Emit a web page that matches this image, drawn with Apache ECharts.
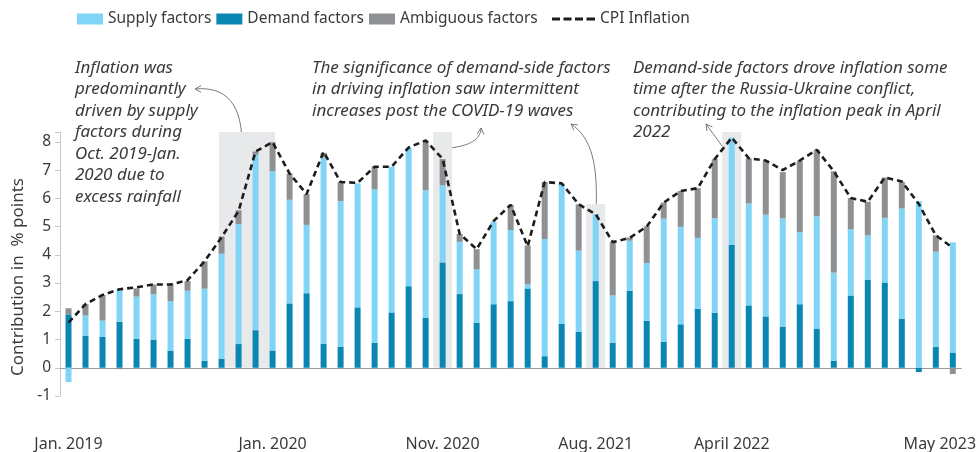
<!DOCTYPE html>
<html>
<head>
<meta charset="utf-8">
<script src="https://cdn.jsdelivr.net/npm/echarts@6/dist/echarts.min.js"></script>
<style>
  html, body { margin: 0; padding: 0; background: #fff; }
  #main { width: 979px; height: 452px; }
</style>
</head>
<body>
<div id="main"></div>
<script>
// months, Jan 2019 - May 2023
const months = [
  'Jan. 2019','Feb. 2019','Mar. 2019','Apr. 2019','May 2019','Jun. 2019','Jul. 2019','Aug. 2019','Sep. 2019','Oct. 2019','Nov. 2019','Dec. 2019',
  'Jan. 2020','Feb. 2020','Mar. 2020','Apr. 2020','May 2020','Jun. 2020','Jul. 2020','Aug. 2020','Sep. 2020','Oct. 2020','Nov. 2020','Dec. 2020',
  'Jan. 2021','Feb. 2021','Mar. 2021','Apr. 2021','May 2021','Jun. 2021','Jul. 2021','Aug. 2021','Sep. 2021','Oct. 2021','Nov. 2021','Dec. 2021',
  'Jan. 2022','Feb. 2022','Mar. 2022','April 2022','May 2022','Jun. 2022','Jul. 2022','Aug. 2022','Sep. 2022','Oct. 2022','Nov. 2022','Dec. 2022',
  'Jan. 2023','Feb. 2023','Mar. 2023','Apr. 2023','May 2023'
];

// which months get a label under the axis
const tickIndex = [0, 12, 22, 31, 39, 52];
const tickText = ['Jan. 2019', 'Jan. 2020', 'Nov. 2020', 'Aug. 2021', 'April 2022', 'May 2023'];

// contributions in % points
const demand = [1.89,1.14,1.09,1.63,1.02,1.0,0.61,1.02,0.25,0.32,0.84,1.33,0.61,
  2.28,2.64,0.85,0.75,2.14,0.88,1.96,2.89,1.77,3.73,2.61,1.6,2.25,2.36,
  2.81,0.41,1.55,1.27,3.07,0.89,2.72,1.66,0.92,1.54,2.09,1.95,4.36,
  2.21,1.82,1.46,2.25,1.39,0.25,2.56,3.11,3.02,1.74,-0.15,0.74,0.54];
const supply = [-0.51,0.71,0.58,1.16,1.5,1.6,1.74,1.71,2.55,3.72,4.25,6.22,6.35,
  3.67,2.42,6.6,5.15,4.39,5.44,5.16,4.9,4.52,2.73,1.85,1.88,2.92,2.52,
  0.14,4.15,4.98,2.88,2.37,1.67,1.78,2.05,4.36,3.45,2.51,3.35,3.79,
  3.61,3.6,3.83,2.55,3.97,3.12,2.34,1.58,2.29,3.9,5.9,3.37,3.9];
const ambiguous = [0.22,0.4,0.91,-0.05,0.29,0.35,0.6,0.34,0.97,0.61,0.49,0.11,1.03,
  0.93,1.09,0.16,0.68,0,0.8,0,0,1.75,0.93,0.28,0.72,0,0.89,
  1.38,2.02,0,1.64,0,1.89,0.11,1.3,0.57,1.27,1.76,2.09,0,
  1.6,1.92,1.64,2.54,2.36,3.59,1.11,1.19,1.43,0.94,0,0.58,-0.22];
const cpi = [1.6,2.25,2.58,2.78,2.85,2.95,2.95,3.1,3.77,4.62,5.55,7.66,7.99,
  6.88,6.15,7.65,6.58,6.55,7.12,7.12,7.8,8.05,7.4,4.74,4.2,5.2,5.77,
  4.3,6.58,6.53,5.79,5.44,4.45,4.6,5.0,5.85,6.26,6.36,7.39,8.15,
  7.42,7.34,7.0,7.34,7.72,6.96,6.01,5.88,6.74,6.6,5.8,4.69,4.25];

// grey highlight boxes (month index from/to, top value)
const shadeStart = [9, 22, 31, 39];
const shadeEnd = [12, 22, 31, 39];
const shadeTop = [8.35, 8.35, 5.8, 8.35];

const FONT = 'Noto Sans';
const TXT = '#3a3a3a';
const ARROW = '#7a7a7a';

function arrowHead(tx, ty, ang) {
  const L = 7, s = 0.5;
  return {
    type: 'polyline',
    shape: { points: [
      [tx - L * Math.cos(ang - s), ty - L * Math.sin(ang - s)],
      [tx, ty],
      [tx - L * Math.cos(ang + s), ty - L * Math.sin(ang + s)]
    ] },
    style: { stroke: ARROW, lineWidth: 1, fill: null }
  };
}
function note(x, y, text) {
  return {
    type: 'text', left: x, top: y,
    style: { text: text, font: 'italic 17px "' + FONT + '"', fill: TXT, lineHeight: 21.5 }
  };
}

const chart = echarts.init(document.getElementById('main'));

const option = {
  animation: false,
  textStyle: { fontFamily: FONT },
  grid: { left: 60, right: 14.5, top: 132, bottom: 32 },
  legend: [
    {
      data: ['Supply factors', 'Demand factors', 'Ambiguous factors'],
      left: 72, top: 6, icon: 'rect', itemWidth: 26, itemHeight: 11, itemGap: 5,
      textStyle: { fontSize: 15.5, color: TXT, fontFamily: FONT }
    },
    {
      data: [{ name: 'CPI Inflation', icon: 'path://M0,0h8v3h-8z M11.5,0h8v3h-8z M23,0h8v3h-8z M34.5,0h8.5v3h-8.5z' }],
      left: 547, top: 6, itemWidth: 43, itemHeight: 3,
      textStyle: { fontSize: 15.5, color: TXT, fontFamily: FONT }
    }
  ],
  xAxis: {
    type: 'category',
    data: months,
    boundaryGap: true,
    axisLine: { onZero: true, lineStyle: { color: '#9a9a9a' } },
    axisTick: { interval: 1, length: 5, lineStyle: { color: '#9a9a9a' } },
    axisLabel: {
      interval: 0, margin: 40, fontSize: 16, color: TXT,
      formatter: (v, i) => {
        const k = tickIndex.indexOf(i);
        if (k < 0) return '';
        return i === months.length - 1 ? '{r|' + tickText[k] + '}' : tickText[k];
      },
      rich: { r: { fontSize: 16, color: TXT, fontFamily: FONT, padding: [0, 26, 0, 0] } }
    }
  },
  yAxis: {
    type: 'value',
    min: -1, max: 8.35, interval: 1,
    name: 'Contribution in  % points',
    nameLocation: 'middle', nameGap: 33,
    nameTextStyle: { fontSize: 17, color: TXT, padding: [0, 26, 0, 0] },
    splitLine: { show: false },
    axisLine: { show: true, lineStyle: { color: '#c8c8c8' } },
    axisTick: { show: true, length: 5, lineStyle: { color: '#c8c8c8' } },
    axisLabel: {
      fontSize: 15.5, color: TXT, margin: 9,
      formatter: v => (Number.isInteger(v) ? String(v) : '')
    }
  },
  series: [
    {
      type: 'custom',
      silent: true, z: 0,
      data: shadeStart.map((s, i) => [s, shadeEnd[i], shadeTop[i]]),
      encode: { x: [0, 1], y: 2 },
      renderItem: (params, api) => {
        const a = api.coord([api.value(0), api.value(2)]);
        const b = api.coord([api.value(1), 0]);
        const pad = api.value(0) === api.value(1) ? 9.5 : 2.5;
        return {
          type: 'rect',
          shape: { x: a[0] - pad, y: a[1], width: b[0] - a[0] + 2 * pad, height: b[1] - a[1] },
          style: { fill: '#e8e9ea' }
        };
      }
    },
    { name: 'Demand factors', type: 'bar', stack: 'f', barWidth: 6, z: 2, data: demand, itemStyle: { color: '#0a86b3' } },
    { name: 'Supply factors', type: 'bar', stack: 'f', barWidth: 6, z: 2, data: supply, itemStyle: { color: '#80d5f6' } },
    { name: 'Ambiguous factors', type: 'bar', stack: 'f', barWidth: 6, z: 2, data: ambiguous, itemStyle: { color: '#8e9093' } },
    {
      name: 'CPI Inflation', type: 'line', z: 3, data: cpi,
      symbol: 'none',
      lineStyle: { color: '#1c1c1c', width: 2.6, type: [6, 4] },
      itemStyle: { color: '#1c1c1c' }
    }
  ],
  graphic: [
    note(75, 57, 'Inflation was\npredominantly\ndriven by supply\nfactors during\nOct. 2019-Jan.\n2020 due to\nexcess rainfall'),
    note(312, 57, 'The significance of demand-side factors\nin driving inflation saw intermittent\nincreases post the COVID-19 waves'),
    note(633, 57, 'Demand-side factors drove inflation some\ntime after the Russia-Ukraine conflict,\ncontributing to the inflation peak in April\n2022'),

    { type: 'bezierCurve', shape: { x1: 242, y1: 148, cpx1: 243, cpy1: 104, cpx2: 226, cpy2: 86, x2: 195, y2: 89 }, style: { stroke: ARROW, lineWidth: 1, fill: null } },
    arrowHead(195, 89, Math.PI),
    { type: 'bezierCurve', shape: { x1: 449, y1: 148, cpx1: 470, cpy1: 146, cpx2: 481, cpy2: 139, x2: 481, y2: 128 }, style: { stroke: ARROW, lineWidth: 1, fill: null } },
    arrowHead(481, 128, -1.5),
    { type: 'bezierCurve', shape: { x1: 596, y1: 210, cpx1: 598, cpy1: 165, cpx2: 592, cpy2: 138, x2: 571, y2: 124 }, style: { stroke: ARROW, lineWidth: 1, fill: null } },
    arrowHead(571, 124, -2.5),
    { type: 'line', shape: { x1: 736, y1: 165, x2: 706, y2: 124 }, style: { stroke: ARROW, lineWidth: 1 } },
    arrowHead(706, 124, Math.atan2(-41, -30))
  ]
};

chart.setOption(option);
</script>
</body>
</html>
